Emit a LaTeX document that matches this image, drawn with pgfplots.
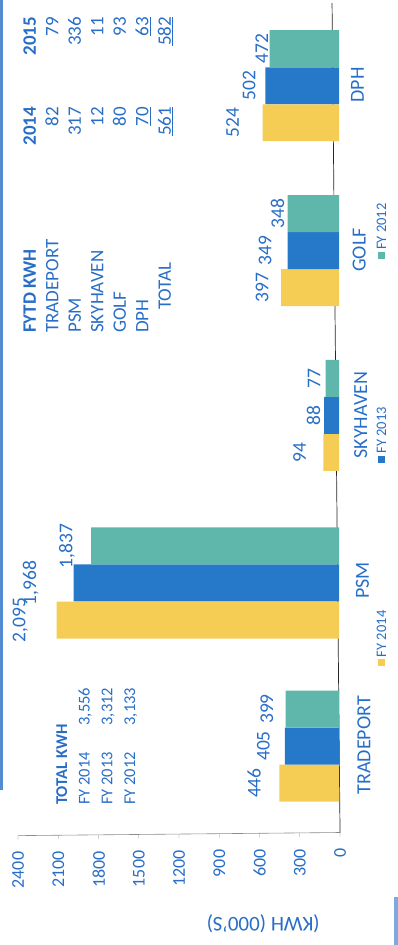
\documentclass[border=0pt]{standalone}
\usepackage{pgfplots}
\usepackage{pgfplotstable}
\pgfplotsset{compat=1.18}
\usepackage{fontspec}
\setmainfont{Carlito}
\usepackage{array}
\definecolor{byellow}{RGB}{245,205,85}
\definecolor{bblue}{RGB}{38,121,201}
\definecolor{bteal}{RGB}{94,183,170}
\definecolor{tblue}{RGB}{40,110,200}
% c = category index (0 TRADEPORT ... 4 DPH), v = kWh (000's), off = label gap
\pgfplotstableread{
c v off
0 446 19
1 2095 29
2 94 18
3 397 13
4 524 24
}\fyfourteen
\pgfplotstableread{
c v off
0 405 15
1 1968 35
2 88 4
3 349 16
4 502 10
}\fythirteen
\pgfplotstableread{
c v off
0 399 12
1 1837 16
2 77 5
3 348 3
4 472 1
}\fytwelve
\begin{document}
\begin{tikzpicture}
\useasboundingbox (0,0) rectangle (398pt,945pt);
\begin{axis}[
  x={(-0.13417pt,-0.0013pt)}, y={(-1.59pt,165.1pt)},
  anchor=origin, at={(339.2pt,199.5pt)},
  clip=false,
  xbar, bar width=0.224,
  xmin=0, xmax=2400, ymin=-0.527, ymax=4.497,
  axis x line*=bottom, axis y line*=right,
  x axis line style={black!45, line width=0.6pt},
  y axis line style={black!85, line width=0.7pt},
  xtick={0,300,...,2400},
  ytick={0,1,2,3,4},
  yticklabels={TRADEPORT,PSM,SKYHAVEN,GOLF,DPH},
  minor ytick={0.5,1.5,2.5,3.5},
  tick align=outside,
  major tick length=4pt, minor tick length=5pt,
  every major y tick/.append style={draw=none},
  every major x tick/.append style={black!50},
  every minor y tick/.append style={black!60},
  /pgf/number format/assume math mode=true,
  x tick label style={rotate=90, anchor=east, inner sep=0pt, font=\fontsize{18}{20}\selectfont, text=tblue, /pgf/number format/1000 sep={}},
  xticklabel shift=12pt,
  y tick label style={rotate=90, anchor=north, inner sep=0pt, font=\fontsize{20}{22}\selectfont, text=tblue},
  yticklabel shift=14pt,
  xlabel={(KWH (000'S)},
  xlabel style={at={(axis description cs:0.767,-0.106)}, anchor=center, rotate=180, font=\fontsize{21}{24}\selectfont, text=tblue},
  point meta=x,
  visualization depends on={\thisrow{off} \as \labeloff},
  nodes near coords,
  every node near coord/.append style={rotate=90, anchor=south, inner sep=0pt, outer sep=\labeloff pt, font=\fontsize{19.5}{22}\selectfont, text=tblue},
  legend columns=1,
  reverse legend,
  legend cell align=left,
  legend style={draw=none, fill=none, at={(1.145,0.214)}, anchor=south east, inner sep=0pt,
    row sep=157pt, column sep=0pt,
    nodes={rotate=90, anchor=west, inner sep=0pt, font=\fontsize{14.5}{16}\selectfont, text=tblue}},
  legend image code/.code={\fill[#1,/tikz/.cd,overlay] (1pt,-9pt) rectangle (8pt,-2pt);},
]
\addplot[fill=byellow, draw=none, bar shift=-0.224] table[x=v, y=c] {\fyfourteen};
\addplot[fill=bblue, draw=none, bar shift=0] table[x=v, y=c] {\fythirteen};
\addplot[fill=bteal, draw=none, bar shift=0.224] table[x=v, y=c] {\fytwelve};
\legend{FY 2014, FY 2013, FY 2012}
\end{axis}
\node[rotate=90, anchor=base west, inner sep=0pt, text=tblue, font=\fontsize{16.5}{22.7}\selectfont] at (67pt,140pt) {%
\begin{tabular}[t]{@{}p{78pt}@{}>{\raggedleft\arraybackslash}p{39pt}@{}}
\multicolumn{2}{@{}l@{}}{\textbf{TOTAL KWH}}\\
FY 2014 & 3,556\\
FY 2013 & 3,312\\
FY 2012 & 3,133
\end{tabular}};
\node[rotate=90, anchor=base west, inner sep=0pt, text=tblue, font=\fontsize{19}{22.5}\selectfont] at (36pt,612pt) {%
\begin{tabular}[t]{@{}p{185pt}@{}>{\raggedleft\arraybackslash}p{41pt}@{}>{\raggedleft\arraybackslash}p{90pt}@{}}
\textbf{FYTD KWH} & \textbf{2014} & \textbf{2015}\\
TRADEPORT & 82 & 79\\
PSM & 317 & 336\\
SKYHAVEN & 12 & 11\\
GOLF & 80 & 93\\
DPH & \underline{70} & \underline{63}\\
\hspace*{23pt}TOTAL & \underline{561} & \underline{582}
\end{tabular}};
\draw[tblue!80, line width=2.5pt] (1.5pt,155pt) -- (1.5pt,945pt);
\fill[tblue!60] (394pt,0pt) rectangle (398pt,48pt);
\end{tikzpicture}
\end{document}
